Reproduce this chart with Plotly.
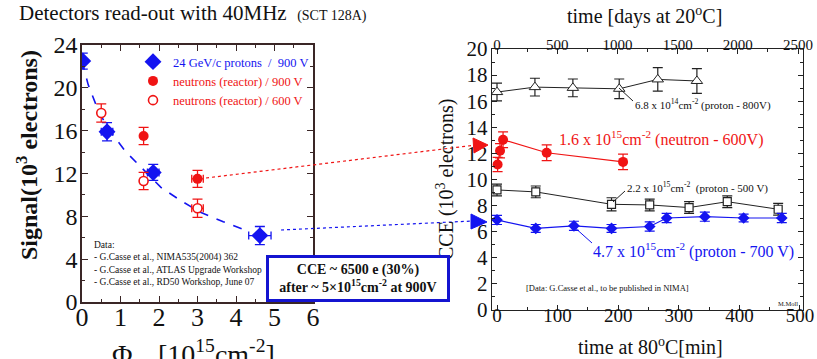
import plotly.graph_objects as go

# Reference canvas is 817x359; the page body margin is removed after load
# so figure pixels coincide with page pixels.
REF_W, REF_H, OFF = 817, 359, 0
W, H = REF_W - OFF, REF_H - OFF
FONT = "Liberation Serif, Times New Roman, serif"
BLUE = "#1414f0"
RED = "#f01414"
BLK = "#222222"

# ---------------- left panel data ----------------
p900_x = [0.02, 0.65, 1.85, 4.62]
p900_y = [22.5, 15.9, 12.1, 6.2]
p900_ex = [0.05, 0.15, 0.15, 0.29]
p900_ey = [0.75, 0.85, 0.75, 0.85]

n900_x = [1.6, 3.0]
n900_y = [15.5, 11.5]
n900_ex = [0.0, 0.15]
n900_ey = [0.8, 0.8]

n600_x = [0.5, 1.6, 3.0]
n600_y = [17.65, 11.3, 8.75]
n600_ex = [0.0, 0.08, 0.15]
n600_ey = [0.85, 0.8, 0.85]

fit_x = [0.0, 0.16, 0.42, 0.68, 1.12, 1.55, 2.05, 2.55, 3.06, 3.67, 4.36]
fit_y = [22.5, 20.3, 17.9, 16.2, 14.1, 12.5, 10.7, 9.5, 8.4, 7.5, 6.55]

# ---------------- right panel data ----------------
pr800_days = [0, 315, 630, 1015, 1335, 1660]
pr800_y = [16.7, 17.08, 17.02, 16.95, 17.67, 17.55]
pr800_ey = [0.68, 0.68, 0.68, 0.75, 0.9, 0.95]

nt600_min = [1, 5, 10, 82, 208]
nt600_y = [11.15, 12.2, 13.05, 12.05, 11.35]
nt600_ey = [0.55, 0.55, 0.6, 0.6, 0.6]

pr500_min = [0, 64, 189, 252, 317, 380, 464]
pr500_y = [9.2, 9.05, 8.1, 8.05, 7.85, 8.3, 7.72]
pr500_ey = [0.45, 0.45, 0.5, 0.45, 0.45, 0.45, 0.45]

pr700_min = [0, 64, 127, 189, 252, 280, 343, 407, 470]
pr700_y = [6.9, 6.25, 6.45, 6.25, 6.4, 7.05, 7.15, 7.05, 7.05]
pr700_ey = [0.35, 0.3, 0.35, 0.3, 0.35, 0.35, 0.35, 0.3, 0.35]

left_yticks = [0, 4, 8, 12, 16, 20, 24]
left_xticks = [0, 1, 2, 3, 4, 5, 6]


def px(x, y):
    return (x - OFF) / W, 1 - (y - OFF) / H


def xdom(a, b):
    return [px(a, 0)[0], px(b, 0)[0]]


def ydom(top, bottom):
    return [px(0, bottom)[1], px(0, top)[1]]


fig = go.Figure()

# left panel
fig.add_trace(go.Scatter(x=fit_x, y=fit_y, mode="lines", line=dict(color=BLUE, width=1.6, dash="dash"),
                         showlegend=False, xaxis="x", yaxis="y", hoverinfo="skip"))
fig.add_trace(go.Scatter(x=p900_x, y=p900_y, mode="markers",
                         name=f'<span style="color:{BLUE}">24 GeV/c protons&nbsp;&nbsp;/&nbsp;&nbsp;900 V</span>',
                         marker=dict(symbol="diamond", size=13, color=BLUE),
                         error_x=dict(type="data", array=p900_ex, color=BLUE, thickness=1.3, width=4),
                         error_y=dict(type="data", array=p900_ey, color=BLUE, thickness=1.3, width=5),
                         xaxis="x", yaxis="y"))
fig.add_trace(go.Scatter(x=n900_x, y=n900_y, mode="markers",
                         name=f'<span style="color:{RED}">neutrons (reactor) / 900 V</span>',
                         marker=dict(symbol="circle", size=10, color=RED),
                         error_x=dict(type="data", array=n900_ex, color=RED, thickness=1.3, width=4),
                         error_y=dict(type="data", array=n900_ey, color=RED, thickness=1.3, width=5),
                         xaxis="x", yaxis="y"))
fig.add_trace(go.Scatter(x=n600_x, y=n600_y, mode="markers",
                         name=f'<span style="color:{RED}">neutrons (reactor) / 600 V</span>',
                         marker=dict(symbol="circle", size=9, color="white", line=dict(color=RED, width=1.6)),
                         error_x=dict(type="data", array=n600_ex, color=RED, thickness=1.3, width=4),
                         error_y=dict(type="data", array=n600_ey, color=RED, thickness=1.3, width=5),
                         xaxis="x", yaxis="y"))

# right panel
fig.add_trace(go.Scatter(x=pr800_days, y=pr800_y, mode="lines+markers", showlegend=False,
                         line=dict(color=BLK, width=1),
                         marker=dict(symbol="triangle-up", size=10, color="white", line=dict(color=BLK, width=1)),
                         error_y=dict(type="data", array=pr800_ey, color=BLK, thickness=1.2, width=5),
                         xaxis="x3", yaxis="y2"))
fig.add_trace(go.Scatter(x=nt600_min, y=nt600_y, mode="lines+markers", showlegend=False,
                         line=dict(color=RED, width=1.2),
                         marker=dict(symbol="circle", size=10, color=RED),
                         error_y=dict(type="data", array=nt600_ey, color=RED, thickness=1.2, width=5),
                         xaxis="x2", yaxis="y2"))
fig.add_trace(go.Scatter(x=pr500_min, y=pr500_y, mode="lines+markers", showlegend=False,
                         line=dict(color=BLK, width=1),
                         marker=dict(symbol="square", size=8, color="white", line=dict(color=BLK, width=1.2)),
                         error_y=dict(type="data", array=pr500_ey, color=BLK, thickness=1.2, width=5),
                         xaxis="x2", yaxis="y2"))
fig.add_trace(go.Scatter(x=pr700_min, y=pr700_y, mode="lines+markers", showlegend=False,
                         line=dict(color=BLUE, width=1.2),
                         marker=dict(symbol="diamond", size=9, color=BLUE),
                         error_y=dict(type="data", array=pr700_ey, color=BLUE, thickness=1.2, width=5),
                         xaxis="x2", yaxis="y2"))

base = dict(showgrid=False, zeroline=False, showline=True, ticks="inside", automargin=False)


def tf(size):
    return dict(family=FONT, size=size, color="#111")


fig.update_layout(
    template="none",
    width=W, height=H, margin=dict(l=0, r=0, t=0, b=0, autoexpand=False),
    paper_bgcolor="white", plot_bgcolor="white",
    font=dict(family=FONT, color="#111"),
    xaxis=dict(domain=xdom(82, 313), range=[0, 6], anchor="y", tickvals=left_xticks,
               linecolor="#3a2626", linewidth=1.6, mirror="ticks", ticklen=6, tickcolor="#3a2626",
               minor=dict(dtick=0.5, ticks="inside", ticklen=3, tickcolor="#3a2626"),
               tickfont=tf(26), ticklabelstandoff=-9, **base),
    yaxis=dict(domain=ydom(45, 302), range=[0, 24], anchor="x", tickvals=left_yticks,
               linecolor="#3a2626", linewidth=1.6, mirror="ticks", ticklen=6, tickcolor="#3a2626",
               minor=dict(dtick=2, ticks="inside", ticklen=3, tickcolor="#3a2626"),
               tickfont=tf(24), ticklabelstandoff=-2, **base),
    xaxis2=dict(domain=xdom(492, 803), range=[-8.25, 505], anchor="y2", dtick=100,
                linecolor="#222", linewidth=1.3, mirror=False, ticklen=5, tickcolor="#222",
                minor=dict(dtick=50, ticks="inside", ticklen=3, tickcolor="#222"),
                tickfont=tf(19), ticklabelstandoff=-12, **base),
    xaxis3=dict(overlaying="x2", side="top", range=[-41.5, 2541], anchor="y2", dtick=500,
                linecolor="#222", linewidth=1.3, ticklen=5, tickcolor="#222",
                minor=dict(dtick=250, ticks="inside", ticklen=3, tickcolor="#222"),
                tickfont=tf(15), ticklabelstandoff=-8, **base),
    yaxis2=dict(domain=ydom(49, 310), range=[0, 20], anchor="x2", dtick=2,
                linecolor="#222", linewidth=1.3, mirror="ticks", ticklen=5, tickcolor="#222",
                minor=dict(dtick=1, ticks="inside", ticklen=3, tickcolor="#222"),
                tickfont=tf(21), ticklabelstandoff=-1, **base),
    legend=dict(x=px(133, 0)[0], y=px(0, 47)[1], xanchor="left", yanchor="top", bgcolor="rgba(0,0,0,0)",
                font=dict(family=FONT, size=12.5), tracegroupgap=0, itemwidth=30, borderwidth=0),
    hovermode=False,
)

ann = []


def add_text(x, y, text, size, color="#111", xanchor="left", yanchor="middle", angle=0, bold=False,
             align="left"):
    xx, yy = px(x, y)
    if bold:
        text = f"<b>{text}</b>"
    ann.append(dict(x=xx, y=yy, xref="paper", yref="paper", text=text, showarrow=False,
                    xanchor=xanchor, yanchor=yanchor, textangle=angle, align=align,
                    font=dict(family=FONT, size=size, color=color)))


add_text(17, 13, 'Detectors read-out with 40MHz&nbsp;&nbsp;<span style="font-size:14px">(SCT 128A)</span>', 21)
add_text(27, 155, "Signal(10<sup>3</sup> electrons)", 24, xanchor="center", angle=-90, bold=True)
add_text(193, 333, "Φ<sub>eq</sub> [10<sup>15</sup>cm<sup>-2</sup>]", 28, xanchor="center", yanchor="top")
add_text(92, 263, "Data:<br>- G.Casse et al., NIMA535(2004) 362<br>- G.Casse et al., ATLAS Upgrade Workshop<br>- G.Casse et al., RD50 Workshop, June 07",
         9.5, yanchor="middle")
add_text(644, 15, "time [days at 20<sup>o</sup>C]", 20, xanchor="center")
add_text(650, 346, "time at 80<sup>o</sup>C[min]", 20, xanchor="center")
add_text(445, 180, "CCE (10<sup>3</sup> electrons)", 20, xanchor="center", angle=-90)
add_text(633, 104, "6.8 x 10<sup>14</sup>cm<sup>-2</sup> (proton - 800V)", 11)
add_text(557, 139, "1.6 x 10<sup>15</sup>cm<sup>-2</sup> (neutron - 600V)", 16, color=RED)
add_text(625, 187, "2.2 x 10<sup>15</sup>cm<sup>-2</sup>&nbsp;&nbsp;(proton - 500 V)", 11)
add_text(591, 250, "4.7 x 10<sup>15</sup>cm<sup>-2</sup> (proton - 700 V)", 16, color=BLUE)
add_text(524, 288, "[Data: G.Casse et al., to be published in NIMA]", 8.5)
add_text(776, 303, "M.Moll", 6.5)

bx, by = px(358, 278)
ann.append(dict(x=bx, y=by, xref="paper", yref="paper", showarrow=False, xanchor="center", yanchor="middle",
                text="<b>CCE ~ 6500 e (30%)<br>after ~ 5×10<sup>15</sup>cm<sup>-2</sup> at 900V</b>",
                font=dict(family=FONT, size=14, color="#111"), bgcolor="white",
                bordercolor="#1414d0", borderwidth=3, borderpad=4, width=170, height=33))
fig.update_layout(annotations=ann)

shapes = []


def line(x0, y0, x1, y1, color, width=1, dash="solid"):
    a, b = px(x0, y0)
    c, d = px(x1, y1)
    shapes.append(dict(type="line", xref="paper", yref="paper", x0=a, y0=b, x1=c, y1=d,
                       line=dict(color=color, width=width, dash=dash)))


def tri(pts, color):
    s = "M " + " L ".join(f"{px(x, y)[0]:.5f},{px(x, y)[1]:.5f}" for x, y in pts) + " Z"
    shapes.append(dict(type="path", xref="paper", yref="paper", path=s, fillcolor=color,
                       line=dict(color=color, width=1)))


line(206, 178, 476, 145, RED, 1.2, "dot")
line(281, 230, 473, 221, BLUE, 1.2, "dot")
tri([(473, 138), (474, 153), (488, 145)], RED)
tri([(471, 214), (471, 229), (487, 222)], BLUE)
line(619, 88, 633, 101, BLK, 1)
line(613, 202, 625, 191, BLK, 1)
line(573, 226, 592, 243, BLUE, 1)
fig.update_layout(shapes=shapes)

fig.write_html("out.html", config={"displayModeBar": False, "staticPlot": True},
               post_script="document.body.style.margin='0';")
